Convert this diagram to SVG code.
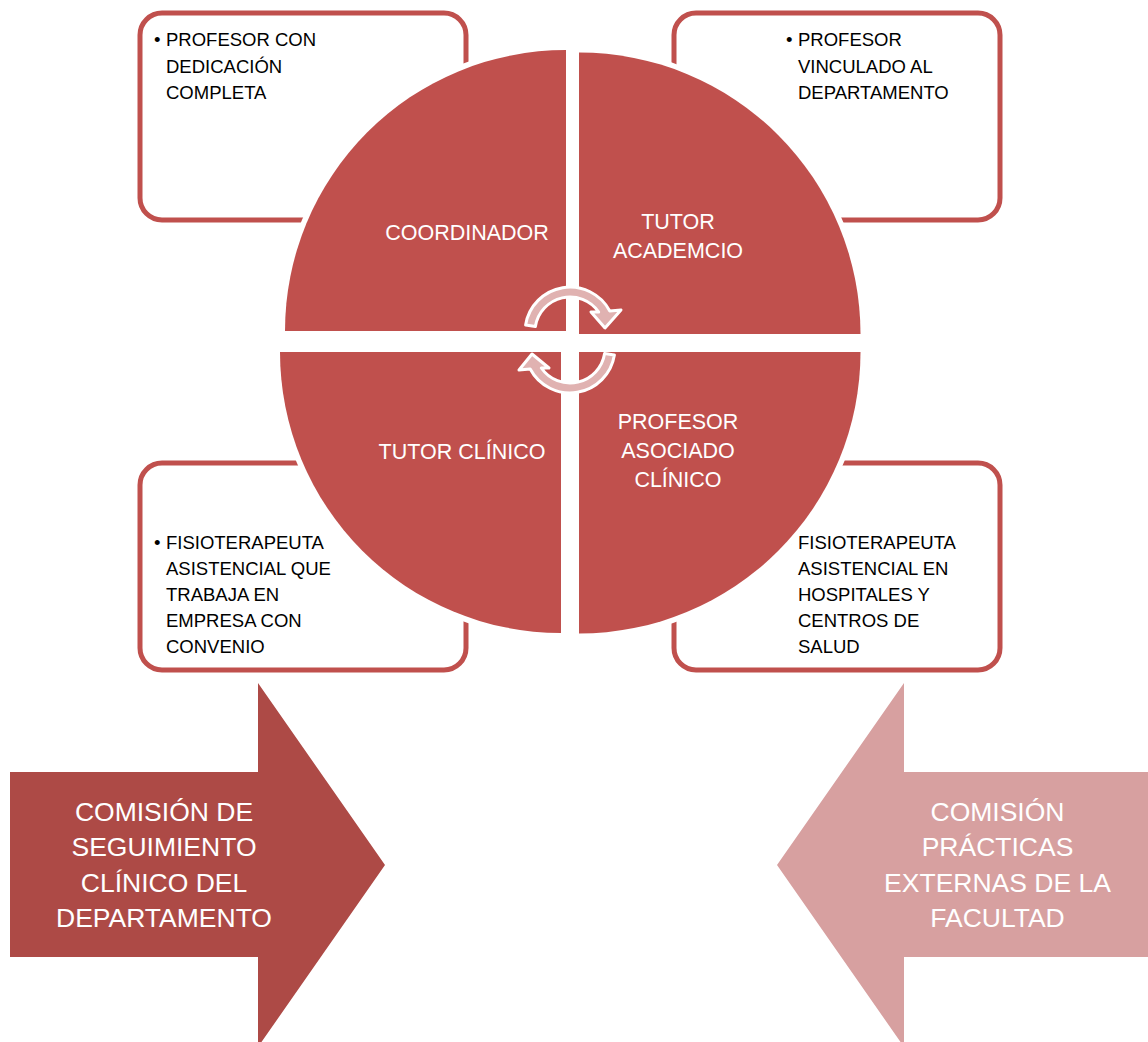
<svg xmlns="http://www.w3.org/2000/svg" width="1148" height="1042" viewBox="0 0 1148 1042">
<style>
.box{fill:#FFFFFF;stroke:#C0504D;stroke-width:5}
.bt{font-family:"Liberation Sans",Arial,sans-serif;font-size:18.5px;fill:#000000}
.pie{fill:#C0504D;stroke:#FFFFFF;stroke-width:11;paint-order:stroke}
.pt{font-family:"Liberation Sans",Arial,sans-serif;font-size:21.5px;fill:#FFFFFF;text-anchor:middle}
.cyc{fill:#E0B2B1;stroke:#FFFFFF;stroke-width:3;stroke-linejoin:round}
.at{font-family:"Liberation Sans",Arial,sans-serif;font-size:26.5px;fill:#FFFFFF;text-anchor:middle}
</style>
<rect width="1148" height="1042" fill="#FFFFFF"/>
<g id="box-coordinador">
<rect class="box" x="140" y="13" width="326" height="207" rx="22"/>
<text class="bt" x="154" y="46">•</text>
<text class="bt"><tspan x="166" y="46">PROFESOR CON</tspan><tspan x="166" y="72.5">DEDICACIÓN</tspan><tspan x="166" y="99">COMPLETA</tspan></text>
</g>
<g id="box-tutor-academico">
<rect class="box" x="674" y="13" width="326" height="207" rx="22"/>
<text class="bt" x="786" y="46">•</text>
<text class="bt"><tspan x="798" y="46">PROFESOR</tspan><tspan x="798" y="72.5">VINCULADO AL</tspan><tspan x="798" y="99">DEPARTAMENTO</tspan></text>
</g>
<g id="box-tutor-clinico">
<rect class="box" x="140" y="463" width="326" height="207" rx="22"/>
<text class="bt" x="154" y="549">•</text>
<text class="bt"><tspan x="166" y="549">FISIOTERAPEUTA</tspan><tspan x="166" y="575">ASISTENCIAL QUE</tspan><tspan x="166" y="601">TRABAJA EN</tspan><tspan x="166" y="627">EMPRESA CON</tspan><tspan x="166" y="653">CONVENIO</tspan></text>
</g>
<g id="box-profesor-asociado">
<rect class="box" x="674" y="463" width="326" height="207" rx="22"/>
<text class="bt" x="786" y="549">•</text>
<text class="bt"><tspan x="798" y="549">FISIOTERAPEUTA</tspan><tspan x="798" y="575">ASISTENCIAL EN</tspan><tspan x="798" y="601">HOSPITALES Y</tspan><tspan x="798" y="627">CENTROS DE</tspan><tspan x="798" y="653">SALUD</tspan></text>
</g>
<g id="q-coordinador">
<path class="pie" d="M566,331 L285,331 A281,281 0 0 1 566,50 Z"/>
<text class="pt" x="467" y="240">COORDINADOR</text>
</g>
<g id="q-tutor-academico">
<path class="pie" d="M579,334 L579,52.5 A281.5,281.5 0 0 1 860.5,334 Z"/>
<text class="pt"><tspan x="678" y="229">TUTOR</tspan><tspan x="678" y="258">ACADEMCIO</tspan></text>
</g>
<g id="q-tutor-clinico">
<path class="pie" d="M561,352 L561,633 A281,281 0 0 1 280,352 Z"/>
<text class="pt" x="462" y="459">TUTOR CLÍNICO</text>
</g>
<g id="q-profesor-asociado">
<path class="pie" d="M579,352 L860.5,352 A281.5,281.5 0 0 1 579,633.5 Z"/>
<text class="pt"><tspan x="678" y="429">PROFESOR</tspan><tspan x="678" y="458">ASOCIADO</tspan><tspan x="678" y="487">CLÍNICO</tspan></text>
</g>
<g id="connectors">
<path class="cyc" d="M525.6,325 A45,45 0 0 1 609.8,311 L621,310 L605,328 L591,312 L598.7,312 A35,35 0 0 0 535.4,326.5 Z"/>
<path class="cyc" d="M614.4,355 A45,45 0 0 1 530.2,369 L519,370 L532,354 L549,368 L541.3,368 A35,35 0 0 0 604.6,353.5 Z"/>
</g>
<g id="comision-departamento">
<path d="M10,772 L258,772 L258,683 L385,865 L258,1047 L258,957 L10,957 Z" fill="#AD4A46"/>
<text class="at"><tspan x="164" y="820.5">COMISIÓN DE</tspan><tspan x="164" y="856">SEGUIMIENTO</tspan><tspan x="164" y="891.5">CLÍNICO DEL</tspan><tspan x="164" y="926.5">DEPARTAMENTO</tspan></text>
</g>
<g id="comision-facultad">
<path d="M1160,772 L904,772 L904,683 L777,865 L904,1047 L904,957 L1160,957 Z" fill="#D7A0A0"/>
<text class="at"><tspan x="997.5" y="820.5">COMISIÓN</tspan><tspan x="997.5" y="856">PRÁCTICAS</tspan><tspan x="997.5" y="891.5">EXTERNAS DE LA</tspan><tspan x="997.5" y="926.5">FACULTAD</tspan></text>
</g>
</svg>
